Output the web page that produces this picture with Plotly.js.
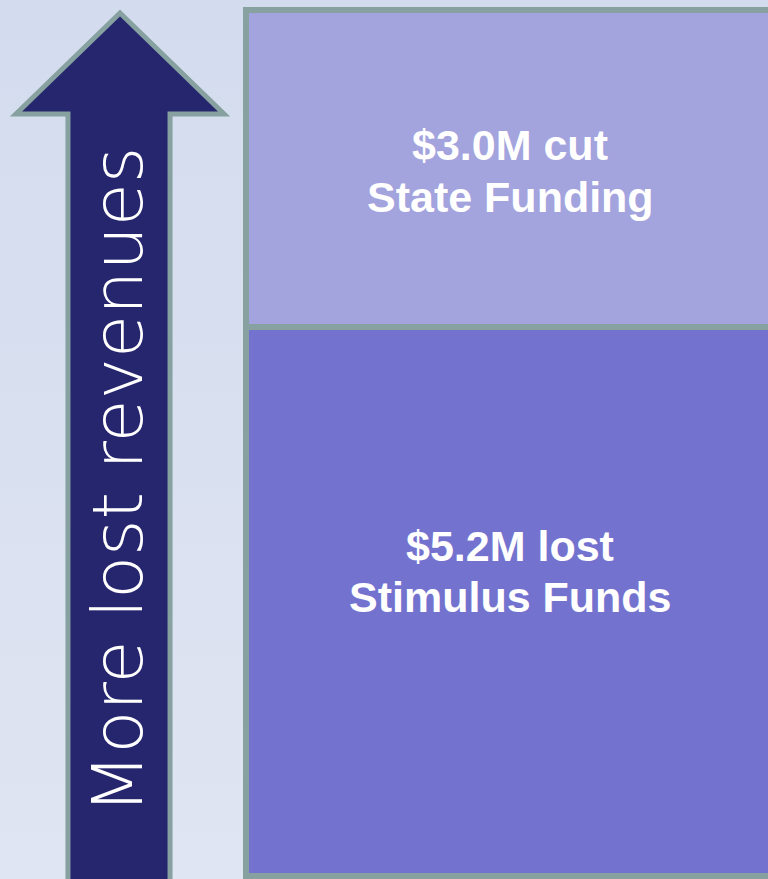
<!DOCTYPE html>
<html>
<head>
<meta charset="utf-8">
<script src="https://cdn.plot.ly/plotly-3.0.1.min.js"></script>
<style>
html,body{margin:0;padding:0;}
body{width:768px;height:879px;overflow:hidden;background:linear-gradient(180deg,#d3dcee 0%,#d9e0f0 50%,#dfe5f2 100%);}
#chart{width:768px;height:879px;}
</style>
</head>
<body>
<div id="chart"></div>
<script>
// Data
const categories = ["Lost revenues"];
const seriesNames = ["Stimulus Funds", "State Funding"];
const stimulusValues = [5.2];
const stateValues = [3.0];
const stimulusLabel = ["$5.2M lost", "Stimulus Funds"];
const stateLabel = ["$3.0M cut", "State Funding"];
const arrowLabel = "More lost revenues";

const W = 768, H = 879;
const px = x => x / W;
const py = y => 1 - y / H;

const total = stimulusValues[0] + stateValues[0];
// y axis: bar bottom at pixel 876, top at pixel 10
const pxPerUnit = (876 - 10) / total;
const yMin = -(H - 876) / pxPerUnit;
const yMax = total + 10 / pxPerUnit;
// x axis: bar left edge at pixel 246, bar width 1 unit = 560px
const unit = 560;
const xMin = -0.5 - 246 / unit;
const xMax = -0.5 + (W - 246) / unit;

const outline = {color: "#87a0a0", width: 6};

const traces = [
  {type: "bar", x: [0], y: stimulusValues, name: seriesNames[0], width: [1],
   marker: {color: "#7373cf", line: outline}, hoverinfo: "skip"},
  {type: "bar", x: [0], y: stateValues, name: seriesNames[1], width: [1],
   marker: {color: "#a3a3de", line: outline}, hoverinfo: "skip"}
];

// arrow (decoration) in paper coordinates
const pts = [[120,13],[224,114],[170,114],[170,900],[68,900],[68,114],[16,114]];
const path = "M " + pts.map(p => px(p[0]).toFixed(4) + "," + py(p[1]).toFixed(4)).join(" L ") + " Z";

const labelFont = {family: "Liberation Sans, Arial", size: 43, color: "#ffffff", weight: 700};
function lbl(text, x, y) {
  return {xref: "paper", yref: "paper", x: px(x), y: py(y), xanchor: "center", yanchor: "middle",
          text: text, showarrow: false, font: labelFont};
}

const layout = {
  width: W, height: H,
  margin: {l: 0, r: 0, t: 0, b: 0},
  paper_bgcolor: "rgba(0,0,0,0)",
  plot_bgcolor: "rgba(0,0,0,0)",
  barmode: "stack",
  showlegend: false,
  xaxis: {range: [xMin, xMax], visible: false, fixedrange: true},
  yaxis: {range: [yMin, yMax], visible: false, fixedrange: true},
  shapes: [
    {type: "path", xref: "paper", yref: "paper", path: path,
     fillcolor: "#26266f", line: {color: "#87a0a0", width: 5}, layer: "above"}
  ],
  annotations: [
    {xref: "paper", yref: "paper", x: px(118), y: py(481), xanchor: "center", yanchor: "middle",
     text: arrowLabel, textangle: -90, showarrow: false,
     font: {family: "DejaVu Sans", size: 70, color: "#ffffff", weight: 200}},
    lbl(stateLabel[0], 510, 145),
    lbl(stateLabel[1], 510, 197),
    lbl(stimulusLabel[0], 510, 546),
    lbl(stimulusLabel[1], 510, 597)
  ]
};

Plotly.newPlot("chart", traces, layout, {displayModeBar: false, staticPlot: true});
</script>
</body>
</html>
